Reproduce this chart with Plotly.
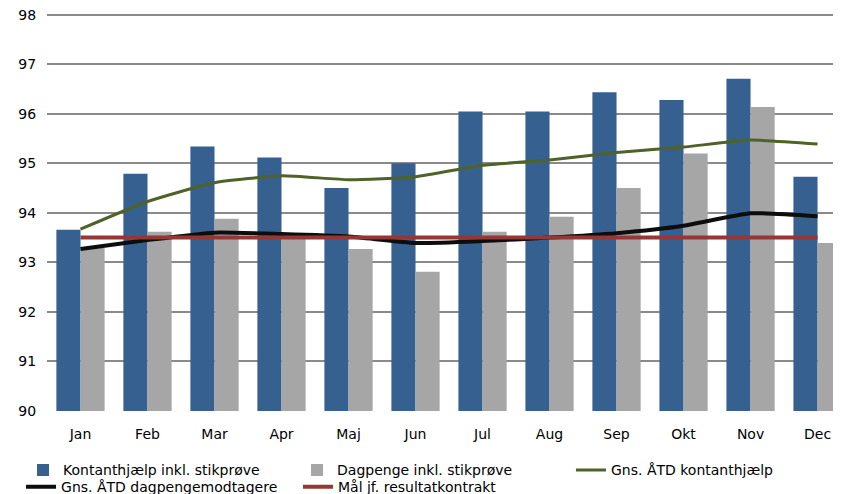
import plotly.graph_objects as go

months = ["Jan", "Feb", "Mar", "Apr", "Maj", "Jun", "Jul", "Aug", "Sep", "Okt", "Nov", "Dec"]
kontant = [93.66, 94.79, 95.34, 95.12, 94.50, 95.00, 96.05, 96.05, 96.44, 96.28, 96.71, 94.73]
dagpenge = [93.29, 93.62, 93.88, 93.52, 93.27, 92.81, 93.62, 93.92, 94.50, 95.20, 96.14, 93.39]
gns_kontant = [93.67, 94.23, 94.61, 94.75, 94.67, 94.73, 94.96, 95.07, 95.22, 95.33, 95.47, 95.39]
gns_dagpenge = [93.27, 93.45, 93.60, 93.57, 93.52, 93.39, 93.43, 93.50, 93.59, 93.74, 93.99, 93.93]
maal = [93.5] * 12
y_ticks = [90, 91, 92, 93, 94, 95, 96, 97, 98]

font_family = "DejaVu Sans, Verdana, sans-serif"

fig = go.Figure()
fig.add_trace(go.Bar(x=months, y=kontant, name="Kontanthjælp inkl. stikprøve", legend="legend",
                     marker=dict(color="#36608F", line=dict(width=0))))
fig.add_trace(go.Bar(x=months, y=dagpenge, name="Dagpenge inkl. stikprøve", legend="legend2",
                     marker=dict(color="#A6A6A6", line=dict(width=0))))
fig.add_trace(go.Scatter(x=months, y=gns_kontant, name="Gns. ÅTD kontanthjælp", mode="lines",
                         legend="legend3",
                         line=dict(color="#4F6228", width=3, shape="spline", smoothing=0.5)))
fig.add_trace(go.Scatter(x=months, y=gns_dagpenge, name="Gns. ÅTD dagpengemodtagere", mode="lines",
                         legend="legend4",
                         line=dict(color="#0D0D0D", width=4, shape="spline", smoothing=0.5)))
fig.add_trace(go.Scatter(x=months, y=maal, name="Mål jf. resultatkontrakt", mode="lines",
                         legend="legend5",
                         line=dict(color="#953735", width=4)))

legend_font = dict(family=font_family, size=14, color="#000000")


def leg(x, y):
    return dict(orientation="v", x=x, xanchor="left", y=y, yanchor="middle",
                font=legend_font, itemwidth=30, bgcolor="rgba(0,0,0,0)", borderwidth=0)


fig.update_layout(
    width=833, height=486,
    margin=dict(l=39, r=0, t=2, b=83, autoexpand=False),
    paper_bgcolor="white", plot_bgcolor="white",
    barmode="group", bargap=0.28, bargroupgap=0,
    font=dict(family=font_family, size=14, color="#000000"),
    showlegend=True,
    legend=leg(-0.0302, -0.148),
    legend2=leg(0.3149, -0.148),
    legend3=leg(0.6599, -0.148),
    legend4=leg(-0.0327, -0.19),
    legend5=leg(0.3161, -0.19),
    xaxis=dict(range=[-0.5, 11.35], showgrid=False, showline=False, zeroline=False,
               ticks="outside", ticklen=10, tickcolor="rgba(0,0,0,0)",
               tickfont=dict(size=14), automargin=False),
    yaxis=dict(range=[89.995, 98.1], tickvals=y_ticks, showgrid=True, gridcolor="#8A8A8A",
               gridwidth=2, zeroline=False, showline=False,
               ticks="outside", ticklen=7, tickcolor="rgba(0,0,0,0)",
               tickfont=dict(size=14), automargin=False, ticklabeloverflow="allow"),
)

fig.write_html("out.html")
